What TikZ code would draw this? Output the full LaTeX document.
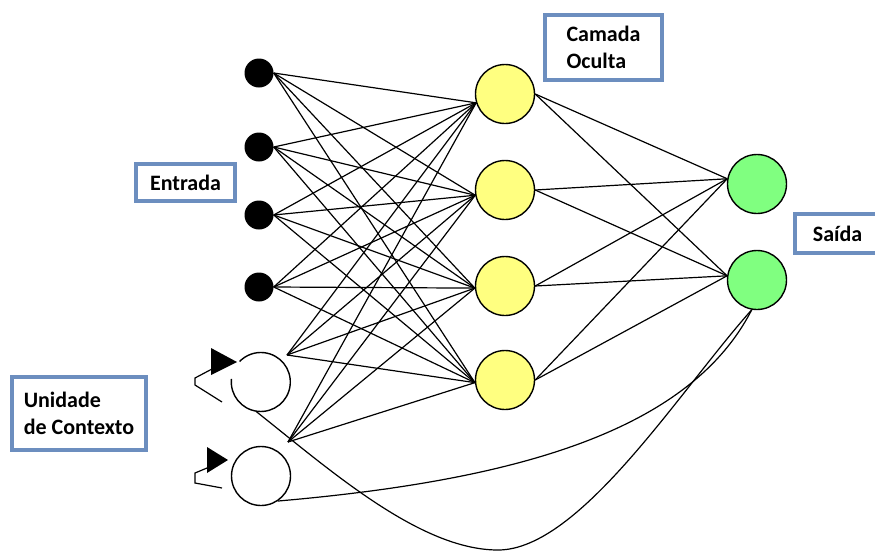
\documentclass[tikz,border=0pt]{standalone}
\usepackage{fontspec}
\newfontfamily\labelfont{Carlito}
\usetikzlibrary{calc}
\definecolor{boxblue}{RGB}{108,142,191}
\definecolor{hiddenyellow}{RGB}{255,255,128}
\definecolor{outgreen}{RGB}{128,255,128}

\begin{document}
\begin{tikzpicture}[x=1pt,y=-1pt,
  inputnode/.style={circle,fill=black,minimum size=29pt,inner sep=0pt},
  hiddennode/.style={circle,draw=black,line width=1.4pt,fill=hiddenyellow,minimum size=59pt,inner sep=0pt},
  outputnode/.style={circle,draw=black,line width=1.4pt,fill=outgreen,minimum size=59pt,inner sep=0pt},
  contextnode/.style={circle,fill=white,minimum size=59pt,inner sep=0pt},
  link/.style={line width=1.2pt},
  outline/.style={line width=1.4pt},
  labelbox/.style={draw=boxblue,line width=4pt,inner sep=0pt,align=left,
    font=\labelfont\bfseries\fontsize{22}{27}\selectfont},
]
\useasboundingbox (0,0) rectangle (875,552);

% input layer
\node[inputnode] (i1) at (259,73) {};
\node[inputnode] (i2) at (259,147) {};
\node[inputnode] (i3) at (259,215) {};
\node[inputnode] (i4) at (259,287) {};

% hidden layer
\node[hiddennode] (h1) at (505,94) {};
\node[hiddennode] (h2) at (505,190) {};
\node[hiddennode] (h3) at (505,286) {};
\node[hiddennode] (h4) at (505,380) {};

% output layer
\node[outputnode] (o1) at (757,184) {};
\node[outputnode] (o2) at (757,280) {};

% context units
\node[contextnode] (c1) at (261,382) {};
\node[contextnode,draw=black,outline] (c2) at (261,476) {};
\draw[outline] (c1.174) arc[start angle=174,end angle=496,radius=29.5pt];

% recurrent self loops
\fill ($(c1)+(-50,-34)$) -- ($(c1)+(-50,-7)$) -- ($(c1)+(-24,-20)$) -- cycle;
\draw[link] ($(c1)+(-49,-13)$) -- ($(c1)+(-66,-4)$) -- ($(c1)+(-66,3)$) -- ($(c1)+(-39,20)$);
\fill ($(c2)+(-54,-29)$) -- ($(c2)+(-54,-3)$) -- ($(c2)+(-33,-16)$) -- cycle;
\draw[link] ($(c2)+(-54,-8)$) -- ($(c2)+(-66,-3)$) -- ($(c2)+(-66,7)$) -- ($(c2)+(-39,12)$);

% input -> hidden
\foreach \i in {1,...,4}
  \foreach \h/\a in {1/197,2/190,3/184,4/185}
    \draw[link] (i\i.east) -- (h\h.\a);

% context -> hidden
\coordinate (c1out) at ($(c1)+(26,-27)$);
\coordinate (c2out) at ($(c2)+(27,-34)$);
\foreach \h/\a in {1/197,2/190,3/184,4/185} {
  \draw[link] (c1out) -- (h\h.\a);
  \draw[link] (c2out) -- (h\h.\a);
}

% hidden -> output
\foreach \h in {1,...,4} {
  \draw[link] (h\h.east) -- (o1.170);
  \draw[link] (h\h.east) -- (o2.172);
}

% output -> context feedback
\coordinate (dip) at (498,550);
\draw[link] (c2.-56) .. controls (520,480) and (690,430) .. (o2.-100);
\draw[link] (c1.-100) .. controls (330,470) and (420,550) .. (dip)
  .. controls (580,550) and (680,390) .. (o2.-100);

% labels
\node[labelbox,minimum width=99pt,minimum height=37pt] (entrada) at (185.5,182.5) {Entrada};
\node[labelbox,minimum width=117pt,minimum height=65pt] (oculta) at (603.5,47.5) {Camada\\Oculta};
\node[labelbox,minimum width=85pt,minimum height=39pt] (saida) at (837.5,233.5) {Saída};
\node[labelbox,minimum width=134pt,minimum height=73pt] (contexto) at (79,413.5) {Unidade\\de Contexto};
\end{tikzpicture}
\end{document}
